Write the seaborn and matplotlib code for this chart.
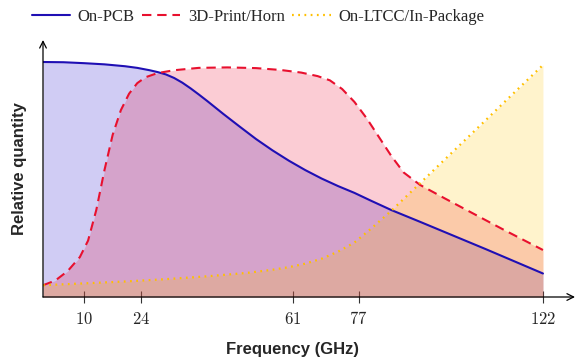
import numpy as np
import matplotlib
matplotlib.use("Agg")
import matplotlib.pyplot as plt
import seaborn as sns

# frequency axis ticks
tick_freqs = [10, 24, 61, 77, 122]

# On-PCB
pcb_x = [0, 5, 10, 15, 20, 23, 26, 28, 30, 32, 34, 36, 38, 40, 44, 48, 52, 56, 60, 64, 68, 72, 76, 80, 85,
         92, 100, 108, 115, 122]
pcb_y = [1.0, 0.999, 0.995, 0.99, 0.982, 0.975, 0.965, 0.957, 0.947, 0.932, 0.912, 0.888, 0.862, 0.835, 0.779,
         0.725, 0.672, 0.624, 0.58, 0.54, 0.504, 0.472, 0.443, 0.41, 0.37, 0.32, 0.262, 0.204, 0.152, 0.10]

# 3D-Print/Horn
horn_x = [0, 3, 6, 9, 11, 13, 15, 17, 19, 21, 23, 25, 28, 32, 38, 45, 52, 58, 63, 67, 70, 73, 76, 79, 82, 85,
          88, 92, 98, 105, 112, 122]
horn_y = [0.05, 0.07, 0.11, 0.17, 0.24, 0.37, 0.54, 0.69, 0.795, 0.865, 0.91, 0.935, 0.953, 0.965, 0.975, 0.977,
          0.974, 0.966, 0.955, 0.94, 0.922, 0.885, 0.83, 0.76, 0.68, 0.60, 0.53, 0.477, 0.42, 0.355, 0.29, 0.2]

# On-LTCC/In-Package
ltcc_x = [0, 10, 20, 30, 40, 50, 56, 60, 64, 68, 72, 76, 80, 85, 92, 100, 108, 115, 122]
ltcc_y = [0.05, 0.058, 0.066, 0.076, 0.088, 0.103, 0.116, 0.127, 0.142, 0.163, 0.193, 0.232, 0.29, 0.367, 0.484,
          0.618, 0.752, 0.87, 0.987]

sns.set_theme(style="white")
plt.rcParams["mathtext.fontset"] = "cm"

fig = plt.figure(figsize=(5.75, 3.61), dpi=100)
ax = fig.add_axes([43 / 575, 64 / 361, 532 / 575, 257 / 361])

# fills first (pgfplots-like fill opacity 0.2)
ax.fill_between(pcb_x, pcb_y, color=(0.08, 0.0, 0.785), alpha=0.2, lw=0)
ax.fill_between(horn_x, horn_y, color=(0.92, 0.0, 0.16), alpha=0.2, lw=0)
ax.fill_between(ltcc_x, ltcc_y, color=(1.0, 0.765, 0.0), alpha=0.2, lw=0)

sns.lineplot(x=pcb_x, y=pcb_y, ax=ax, color="#1f0fb4", lw=1.5, label="On-PCB")
sns.lineplot(x=horn_x, y=horn_y, ax=ax, color="#e8102e", lw=1.5, linestyle=(0, (4.5, 2.8)),
             label="3D-Print/Horn")
sns.lineplot(x=ltcc_x, y=ltcc_y, ax=ax, color="#ffc000", lw=1.6, linestyle=(0, (0.8, 2.0)),
             label="On-LTCC/In-Package")

ax.set_xlim(0, 532 / 4.098)
ax.set_ylim(0, 257 / 235)
for s in ax.spines.values():
    s.set_visible(False)

# axis arrows
ax.annotate("", xy=(1, 0), xytext=(0, 0), xycoords="axes fraction",
            arrowprops=dict(arrowstyle="->", lw=0.9, color="black", shrinkA=0, shrinkB=0))
ax.annotate("", xy=(0, 1), xytext=(0, 0), xycoords="axes fraction",
            arrowprops=dict(arrowstyle="->", lw=0.9, color="black", shrinkA=0, shrinkB=0))

ax.set_xticks(tick_freqs)
ax.set_xticklabels([f"${t}$" for t in tick_freqs], fontsize=12)
ax.set_yticks([])
ax.tick_params(axis="x", direction="inout", length=8, width=0.8, color="#333333", pad=5, bottom=True)

ax.set_xlabel("Frequency (GHz)", family="Liberation Sans", fontweight="bold", fontsize=12)
ax.xaxis.set_label_coords(250 / 532, -45 / 257)
ax.set_ylabel("Relative quantity", family="Liberation Sans", fontweight="bold", fontsize=12)
ax.yaxis.set_label_coords(-16 / 532, 0.5)

handles, labels = ax.get_legend_handles_labels()
ax.get_legend().remove()
fig.legend(handles, labels, loc="center", bbox_to_anchor=(258 / 575, 1 - 17 / 361), ncol=3, frameon=False,
           prop={"family": "Liberation Serif", "size": 12}, handlelength=2.3, handletextpad=0.45,
           columnspacing=0.45, borderaxespad=0)

fig.savefig("out.png", dpi=100)
